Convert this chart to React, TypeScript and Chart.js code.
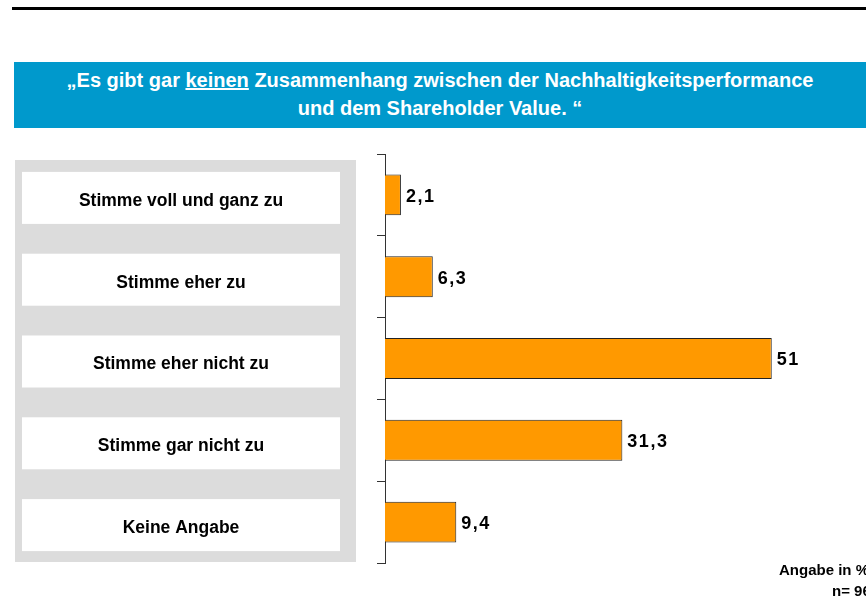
import React, { useEffect, useRef } from "react";
import { Chart, registerables } from "chart.js";

Chart.register(...registerables);

const categories = [
  "Stimme voll und ganz zu",
  "Stimme eher zu",
  "Stimme eher nicht zu",
  "Stimme gar nicht zu",
  "Keine Angabe",
];
const values = [2.1, 6.3, 51, 31.3, 9.4];
const valueLabels = ["2,1", "6,3", "51", "31,3", "9,4"];
const xMax = 60;

const FONT = "'Liberation Sans', Arial, Helvetica, sans-serif";

const panelPlugin = {
  id: "panelPlugin",
  beforeDraw(chart: any) {
    const ctx = chart.ctx;
    const y = chart.scales.y;
    ctx.save();
    ctx.fillStyle = "#DCDCDC";
    ctx.fillRect(15, 160, 341, 402);
    ctx.fillStyle = "#FFFFFF";
    categories.forEach((_, i) => {
      const c = y.getPixelForValue(i);
      ctx.fillRect(22, c - 23, 318, 52);
    });
    ctx.fillStyle = "#000000";
    ctx.font = `bold 17.5px ${FONT}`;
    ctx.textAlign = "center";
    ctx.textBaseline = "middle";
    categories.forEach((label, i) => {
      const c = y.getPixelForValue(i);
      ctx.fillText(label, 181, c + 6);
    });
    ctx.restore();
  },
  afterDatasetsDraw(chart: any) {
    const ctx = chart.ctx;
    const meta = chart.getDatasetMeta(0);
    ctx.save();
    ctx.fillStyle = "#000000";
    ctx.font = `bold 18px ${FONT}`;
    ctx.textAlign = "left";
    ctx.textBaseline = "middle";
    try {
      (ctx as any).letterSpacing = "1.5px";
    } catch (e) {}
    meta.data.forEach((el: any, i: number) => {
      ctx.fillText(valueLabels[i], el.x + 5, el.y + 2);
    });
    ctx.restore();
  },
};

export default function App() {
  const canvasRef = useRef<HTMLCanvasElement | null>(null);

  useEffect(() => {
    if (!canvasRef.current) return;
    const chart = new Chart(canvasRef.current, {
      type: "bar",
      data: {
        labels: categories,
        datasets: [
          {
            data: values,
            backgroundColor: "#FF9900",
            borderColor: "#222222",
            borderWidth: 1,
            barPercentage: 0.5,
            categoryPercentage: 1,
          },
        ],
      },
      options: {
        indexAxis: "y",
        responsive: false,
        animation: false,
        devicePixelRatio: 1,
        layout: { padding: { left: 0, top: 154, right: 26, bottom: 37 } },
        plugins: {
          legend: { display: false },
          tooltip: { enabled: false },
          title: { display: false },
        },
        scales: {
          x: { display: false, min: 0, max: xMax },
          y: {
            type: "category",
            grid: {
              drawOnChartArea: false,
              drawTicks: true,
              tickLength: 8,
              color: "#333333",
              lineWidth: 1,
              offset: true,
            },
            border: { display: true, color: "#333333", width: 1 },
            ticks: { display: false },
            afterFit(scale: any) {
              scale.width = 385;
            },
          },
        },
      },
      plugins: [panelPlugin],
    });
    return () => chart.destroy();
  }, []);

  return (
    <div
      style={{
        position: "fixed",
        left: 0,
        top: 0,
        width: 866,
        height: 600,
        overflow: "hidden",
        background: "#FFFFFF",
        fontFamily: FONT,
      }}
    >
      <div
        style={{
          position: "absolute",
          left: 12,
          top: 7,
          width: 854,
          height: 3,
          background: "#000000",
        }}
      />
      <div
        style={{
          position: "absolute",
          left: 14,
          top: 62,
          width: 852,
          height: 66,
          boxSizing: "border-box",
          paddingTop: 4,
          background: "#0099CC",
          color: "#FFFFFF",
          fontWeight: "bold",
          fontSize: 20,
          lineHeight: "28px",
          textAlign: "center",
        }}
      >
        „Es gibt gar <span style={{ textDecoration: "underline" }}>keinen</span> Zusammenhang zwischen der Nachhaltigkeitsperformance
        <br />
        und dem Shareholder Value. “
      </div>
      <canvas
        ref={canvasRef}
        width={866}
        height={600}
        style={{ position: "absolute", left: 0, top: 0, width: 866, height: 600 }}
      />
      <div
        style={{
          position: "absolute",
          left: 779,
          top: 561,
          whiteSpace: "nowrap",
          fontWeight: "bold",
          fontSize: 15,
          color: "#000000",
        }}
      >
        Angabe in %
      </div>
      <div
        style={{
          position: "absolute",
          left: 832,
          top: 582,
          whiteSpace: "nowrap",
          fontWeight: "bold",
          fontSize: 15,
          color: "#000000",
        }}
      >
        n= 96
      </div>
    </div>
  );
}
